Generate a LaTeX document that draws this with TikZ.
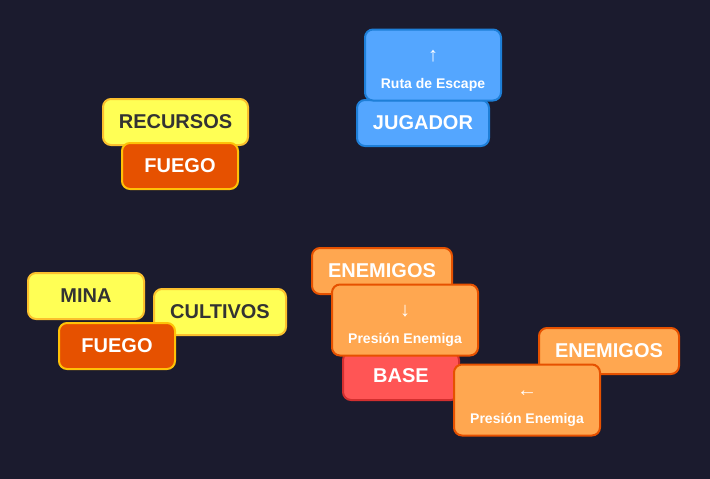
\documentclass[tikz,border=0pt]{standalone}
\usepackage{fontspec}
\setmainfont{Liberation Sans}
\usepackage{tikz}
\usetikzlibrary{positioning}

\definecolor{bgdark}{RGB}{27,27,46}
\definecolor{resfill}{RGB}{255,255,85}
\definecolor{resline}{RGB}{251,192,45}
\definecolor{restext}{RGB}{51,51,51}
\definecolor{firefill}{RGB}{230,81,0}
\definecolor{fireline}{RGB}{255,193,7}
\definecolor{plfill}{RGB}{84,166,255}
\definecolor{plline}{RGB}{30,127,216}
\definecolor{enfill}{RGB}{255,167,80}
\definecolor{enline}{RGB}{230,81,0}
\definecolor{basefill}{RGB}{255,85,85}
\definecolor{baseline}{RGB}{211,47,47}

\begin{document}
\begin{tikzpicture}[
    x=1pt, y=-1pt,
    box/.style={draw, rounded corners=8pt, line width=2pt, align=center, inner sep=0pt, font=\fontsize{20}{22}\selectfont\bfseries, text=white},
    res/.style={box, fill=resfill, draw=resline, text=restext, minimum height=46pt},
    fire/.style={box, fill=firefill, draw=fireline, minimum width=116pt, minimum height=46pt},
    player/.style={box, fill=plfill, draw=plline},
    enemy/.style={box, fill=enfill, draw=enline},
    basebox/.style={box, fill=basefill, draw=baseline, minimum width=116pt, minimum height=48pt},
    hint/.style={minimum width=146pt, minimum height=71pt}
]
\useasboundingbox[fill=bgdark] (0,0) rectangle (710,479);

% resources corner
\node[res, minimum width=145pt] (recursos) at (175.5,122) {RECURSOS};
\node[fire] (fuego1) at (180,166) {FUEGO};

% player and escape route
\node[player, minimum width=132pt, minimum height=46pt] (jugador) at (423,123) {JUGADOR};
\node[player, minimum width=136pt, minimum height=71pt] (ruta) at (433,65)
    {\rule{0pt}{23pt}\fontsize{20}{20}\selectfont\mdseries ↑\\[5pt]\fontsize{14}{16}\selectfont Ruta de Escape};

% mine and crops
\node[res, minimum width=116pt] (mina) at (86,296) {MINA};
\node[res, minimum width=132pt] (cultivos) at (220,312) {CULTIVOS};
\node[fire] (fuego2) at (117,346) {FUEGO};

% enemies and base
\node[enemy, minimum width=140pt, minimum height=46pt] (enemigos1) at (382,271) {ENEMIGOS};
\node[basebox] (base) at (401,376) {BASE};
\node[enemy, hint] (presion1) at (405,320)
    {\rule{0pt}{23pt}\fontsize{20}{20}\selectfont\mdseries ↓\\[5pt]\fontsize{14}{16}\selectfont Presión Enemiga};
\node[enemy, minimum width=140pt, minimum height=46pt] (enemigos2) at (609,351) {ENEMIGOS};
\node[enemy, hint] (presion2) at (527,400)
    {\rule{0pt}{23pt}\fontsize{20}{20}\selectfont\mdseries ←\\[5pt]\fontsize{14}{16}\selectfont Presión Enemiga};
\end{tikzpicture}
\end{document}
